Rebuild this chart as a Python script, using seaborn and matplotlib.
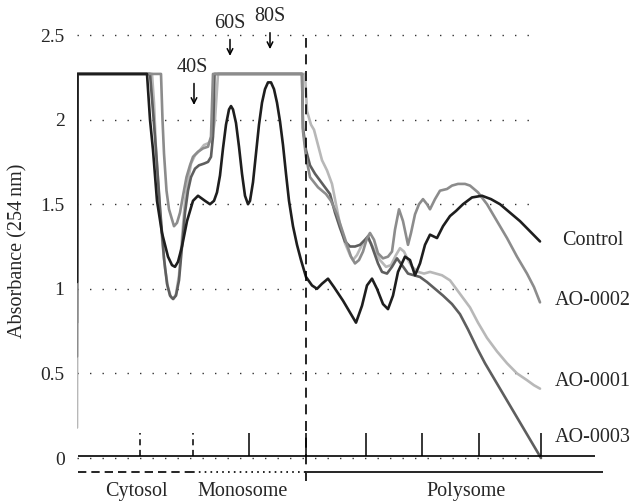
import numpy as np
import pandas as pd
import matplotlib
matplotlib.use("Agg")
import matplotlib.pyplot as plt
import seaborn as sns

# Polysome profile traces (position along gradient, absorbance at 254 nm)
control_x = [0, 0.5, 70, 73, 76, 80, 85, 91, 95, 98, 101, 105, 110, 116, 121, 128, 133, 137,
             140, 143, 146, 149, 152, 154, 156, 159, 162, 165, 168, 171, 173, 176, 179, 182,
             185, 188, 191, 194, 197, 200, 203, 206, 209, 212, 216, 220, 224, 229, 235,
             240, 245, 251, 257, 266, 273, 279, 285, 290, 295, 300, 306, 311, 316, 321, 328,
             333, 338, 343, 348, 353, 360, 366, 373, 379, 386, 395, 405, 414, 423, 433, 443,
             453, 463]
control_y = [1.04, 2.27, 2.27, 2.0, 1.82, 1.52, 1.33, 1.19, 1.14, 1.13, 1.16, 1.25, 1.40, 1.52,
             1.55, 1.52, 1.50, 1.52, 1.57, 1.67, 1.83, 1.97, 2.06, 2.08, 2.06, 1.98, 1.84, 1.68,
             1.55, 1.50, 1.52, 1.63, 1.80, 1.97, 2.10, 2.18, 2.22, 2.22, 2.18, 2.10, 1.99, 1.85,
             1.68, 1.52, 1.37, 1.26, 1.17, 1.07, 1.02, 1.00, 1.03, 1.06, 1.01, 0.93, 0.86, 0.80,
             0.90, 1.02, 1.06, 1.00, 0.91, 0.88, 0.96, 1.10, 1.19, 1.17, 1.08, 1.15, 1.26, 1.32,
             1.30, 1.37, 1.43, 1.46, 1.50, 1.54, 1.55, 1.53, 1.50, 1.45, 1.40, 1.34, 1.28]

ao2_x = [0, 0.5, 84, 85.5, 87, 89.5, 92, 94.5, 97, 100, 103, 106, 109.5, 113, 116, 121, 126,
         131, 134, 136, 225, 226, 229, 233, 241, 249, 254, 260, 265, 270, 274, 278, 282, 286,
         290, 293, 297, 301, 306, 311, 315, 318, 322, 326, 331, 334, 338, 342, 346, 350, 353,
         358, 363, 370, 375, 381, 388, 393, 401, 410, 420, 430, 440, 450, 457, 463]
ao2_y = [0.6, 2.27, 2.27, 2.0, 1.80, 1.58, 1.47, 1.42, 1.37, 1.39, 1.45, 1.55, 1.66, 1.73,
         1.78, 1.81, 1.83, 1.84, 1.9, 2.27, 2.27, 1.93, 1.78, 1.66, 1.60, 1.56, 1.52, 1.44,
         1.35, 1.26, 1.19, 1.15, 1.17, 1.22, 1.30, 1.33, 1.29, 1.21, 1.18, 1.19, 1.22, 1.35,
         1.47, 1.40, 1.26, 1.33, 1.44, 1.50, 1.53, 1.50, 1.47, 1.53, 1.58, 1.59, 1.61, 1.62,
         1.62, 1.61, 1.57, 1.50, 1.40, 1.30, 1.19, 1.09, 1.01, 0.92]

ao1_x = [0, 0.5, 75, 77, 79, 82, 85, 88, 91, 94, 96.5, 99, 102, 105, 108, 111, 114, 118, 123,
         127, 131, 135, 138, 141, 228, 230, 234, 237, 241, 245, 250, 255, 259, 263, 268, 273,
         276, 280, 285, 290, 294, 298, 303, 309, 314, 319, 323, 327, 331, 335, 341, 347, 353,
         359, 365, 373, 383, 393, 401, 410, 420, 430, 440, 450, 457, 463]
ao1_y = [0.18, 2.27, 2.27, 2.1, 1.82, 1.55, 1.30, 1.12, 1.01, 0.95, 0.94, 0.97, 1.08, 1.30,
         1.52, 1.64, 1.74, 1.79, 1.82, 1.85, 1.86, 1.88, 2.0, 2.27, 2.27, 2.05, 1.97, 1.94,
         1.85, 1.76, 1.70, 1.62, 1.50, 1.38, 1.27, 1.20, 1.17, 1.20, 1.26, 1.30, 1.27, 1.22,
         1.17, 1.13, 1.14, 1.20, 1.24, 1.22, 1.17, 1.13, 1.10, 1.09, 1.10, 1.09, 1.08, 1.05,
         0.97, 0.89, 0.80, 0.71, 0.63, 0.56, 0.50, 0.46, 0.43, 0.41]

ao3_x = [0, 0.5, 73, 76, 79, 83, 87, 90, 93, 96, 99, 102, 105, 108, 111, 114, 118, 122, 127,
         131, 134, 136, 137.5, 225, 226, 229, 233, 238, 243, 248, 253, 258, 263, 268, 273,
         278, 283, 288, 291, 295, 301, 305, 310, 315, 320, 325, 331, 337, 343, 350, 356, 366,
         375, 383, 391, 400, 408, 416, 425, 433, 441, 449, 457, 464]
ao3_y = [0.8, 2.27, 2.27, 2.05, 1.82, 1.48, 1.18, 1.03, 0.96, 0.94, 0.96, 1.05, 1.25, 1.45,
         1.58, 1.66, 1.71, 1.73, 1.74, 1.75, 1.78, 1.9, 2.27, 2.27, 1.95, 1.82, 1.73, 1.68,
         1.64, 1.60, 1.56, 1.45, 1.36, 1.28, 1.25, 1.25, 1.26, 1.29, 1.31, 1.25, 1.15, 1.10,
         1.09, 1.13, 1.18, 1.14, 1.09, 1.08, 1.07, 1.04, 1.01, 0.96, 0.91, 0.85, 0.76, 0.65,
         0.56, 0.48, 0.39, 0.31, 0.23, 0.15, 0.07, 0.0]

samples = ["AO-0001", "AO-0003", "AO-0002", "Control"]
colors = ["#b8b8b8", "#5e5e5e", "#8c8c8c", "#1e1e1e"]

# fraction ticks along the gradient axis
fraction_ticks = [63, 116, 172, 229, 289, 345, 402, 464]
dashed_ticks = [63, 116]
polysome_start = 228.5

peaks = ["40S", "60S", "80S"]
peak_x = [117, 153, 193]

region_names = ["Cytosol", "Monosome", "Polysome"]
region_x = [59, 166, 389]

yticks = [0, 0.5, 1, 1.5, 2, 2.5]
ytick_labels = ["0", "0.5", "1", "1.5", "2", "2.5"]

df = pd.concat([
    pd.DataFrame({"position": ao1_x, "absorbance": ao1_y, "sample": "AO-0001"}),
    pd.DataFrame({"position": ao3_x, "absorbance": ao3_y, "sample": "AO-0003"}),
    pd.DataFrame({"position": ao2_x, "absorbance": ao2_y, "sample": "AO-0002"}),
    pd.DataFrame({"position": control_x, "absorbance": control_y, "sample": "Control"}),
], ignore_index=True)

sns.set_style("white")
plt.rcParams["font.family"] = ["Liberation Serif", "DejaVu Serif"]

fig = plt.figure(figsize=(6.35, 5.04), dpi=100)
ax = fig.add_axes([77 / 635, 0.0073, 1 - 77 / 635, 0.9736])

# dotted grid lines
ax.hlines(yticks, 0, 460, colors="#333333", linestyles=(0, (1, 8)), lw=1.0, zorder=0)

sns.lineplot(data=df, x="position", y="absorbance", hue="sample", hue_order=samples,
             palette=dict(zip(samples, colors)), sort=False, estimator=None,
             legend=False, lw=1.9, ax=ax, zorder=3)

ax.set_xlim(0, 558)
ax.set_ylim(-0.25, 2.65)
for s in ax.spines.values():
    s.set_visible(False)
ax.set_xticks([])
ax.set_yticks(yticks)
ax.set_yticklabels(ytick_labels)
ax.tick_params(axis="y", length=0, pad=9, labelsize=14)
ax.set_xlabel("")
ax.set_ylabel("")
fig.text(0.028, 0.502, "Absorbance (254\u2009nm)", rotation=90, ha="center", va="center",
         fontsize=14.5)

# baseline, fraction ticks and polysome divider
ax.hlines(0.012, 1, 518, colors="black", lw=1.2, zorder=4)
for t in fraction_ticks:
    ls = (0, (4, 3)) if t in dashed_ticks else "-"
    ax.vlines(t, 0.012, 0.148, colors="black", lw=1.1, linestyles=ls, zorder=4)
ax.vlines(polysome_start, -0.136, 2.48, colors="black", lw=1.2, linestyles=(0, (6, 4)), zorder=4)

# region bars below the axis
ax.hlines(-0.083, 1, fraction_ticks[1], colors="black", lw=1.2, linestyles=(0, (5, 3)))
ax.hlines(-0.083, fraction_ticks[1], polysome_start, colors="black", lw=1.2, linestyles=(0, (1, 2.5)))
ax.hlines(-0.083, 229.5, 526, colors="black", lw=1.2)
for name, xc in zip(region_names, region_x):
    ax.text(xc, -0.2, name, ha="center", va="center", fontsize=14.5)

# ribosome subunit markers
ax.annotate("", xy=(peak_x[0], 2.07), xytext=(peak_x[0], 2.23),
            arrowprops=dict(arrowstyle="->", lw=1.1, color="black"))
ax.text(peak_x[0] - 2, 2.31, peaks[0], ha="center", va="center", fontsize=14.5)
ax.annotate("", xy=(peak_x[1], 2.36), xytext=(peak_x[1], 2.49),
            arrowprops=dict(arrowstyle="->", lw=1.1, color="black"))
ax.text(peak_x[1], 2.57, peaks[1], ha="center", va="center", fontsize=14.5)
ax.annotate("", xy=(peak_x[2], 2.40), xytext=(peak_x[2], 2.53),
            arrowprops=dict(arrowstyle="->", lw=1.1, color="black"))
ax.text(peak_x[2], 2.61, peaks[2], ha="center", va="center", fontsize=14.5)

# curve labels on the right
label_y = {"Control": 1.288, "AO-0002": 0.93, "AO-0001": 0.451, "AO-0003": 0.124}
for name, yv in label_y.items():
    ax.text(516, yv, name, ha="center", va="center", fontsize=14.5, clip_on=False)

fig.savefig("out.png", dpi=100)
